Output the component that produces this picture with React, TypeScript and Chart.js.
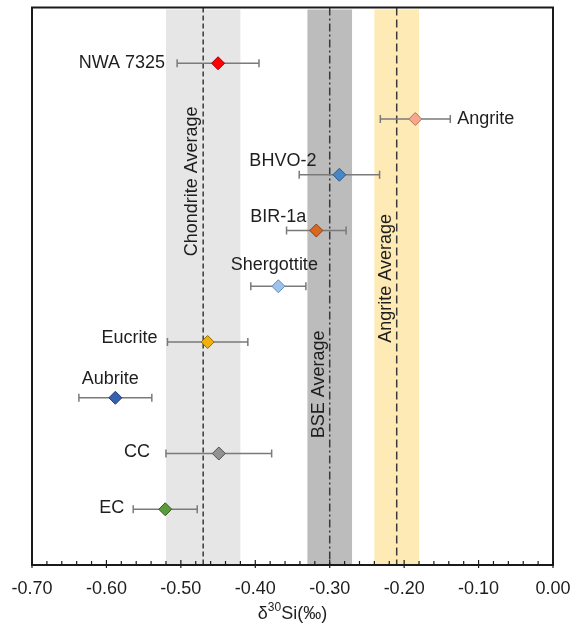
import React, { useEffect, useRef } from "react";
import { Chart, registerables } from "chart.js";

Chart.register(...registerables);

// ---- data ----
const samples = ["NWA 7325", "Angrite", "BHVO-2", "BIR-1a", "Shergottite", "Eucrite", "Aubrite", "CC", "EC"];
const delta30Si = [-0.45, -0.185, -0.287, -0.318, -0.369, -0.464, -0.588, -0.449, -0.521];
const err2sd = [0.055, 0.047, 0.054, 0.04, 0.037, 0.054, 0.049, 0.071, 0.043];
const rowIndex = [9, 8, 7, 6, 5, 4, 3, 2, 1];

const bandNames = ["Chondrite Average", "BSE Average", "Angrite Average"];
const bandMean = [-0.47, -0.3, -0.21];
const bandLow = [-0.52, -0.33, -0.24];
const bandHigh = [-0.42, -0.27, -0.18];

const xTickValues = [-0.7, -0.6, -0.5, -0.4, -0.3, -0.2, -0.1, 0.0];
const xTitleParts = ["δ", "30", "Si(‰)"];

// ---- styles ----
const FONT = '"Liberation Sans", Arial, sans-serif';
const pointFill = ["#ff0000", "#f4a98f", "#4a86c4", "#d8671f", "#9fc3e8", "#f1b10a", "#3561b1", "#929292", "#5c9a3a"];
const pointEdge = ["#a00000", "#b8735e", "#2b5a8e", "#8c4212", "#5d8cc0", "#8e6a00", "#1c3a78", "#4f4f4f", "#2f5c1a"];
const bandFill = ["#e6e6e7", "#bcbcbc", "#feeab4"];
const bandDash = [[5, 3], [8, 3, 2, 3], [8, 4]];
const bandLabelRow = [6.88, 3.24, 5.14];
// label placement: anchor ('lo' = left end of error bar, 'hi' = right end, 'pt' = point), align, dx, dy (px)
const labelPlace: [string, CanvasTextAlign, number, number][] = [
  ["lo", "right", -12, 0],
  ["hi", "left", 7, 0],
  ["pt", "right", -23, -14],
  ["pt", "right", -10, -13],
  ["pt", "center", -4, -21],
  ["lo", "right", -10, -4],
  ["pt", "center", -5, -19],
  ["lo", "right", -16, -1],
  ["lo", "right", -9, -1],
];

const customPlugin = {
  id: "customDraw",
  beforeDatasetsDraw(chart: any) {
    const { ctx, chartArea: a, scales } = chart;
    const x = scales.x;
    const y = scales.y;
    ctx.save();
    // bands
    for (let i = 0; i < bandNames.length; i++) {
      const l = x.getPixelForValue(bandLow[i]);
      const r = x.getPixelForValue(bandHigh[i]);
      ctx.fillStyle = bandFill[i];
      ctx.fillRect(l, a.top + 2, r - l, a.bottom - a.top - 2);
    }
    for (let i = 0; i < bandNames.length; i++) {
      const m = x.getPixelForValue(bandMean[i]);
      ctx.beginPath();
      ctx.setLineDash(bandDash[i]);
      ctx.strokeStyle = "#3a3a3a";
      ctx.lineWidth = 1.5;
      ctx.moveTo(m, a.top);
      ctx.lineTo(m, a.bottom);
      ctx.stroke();
    }
    ctx.setLineDash([]);
    // band labels
    for (let i = 0; i < bandNames.length; i++) {
      const m = x.getPixelForValue(bandMean[i]);
      const yy = y.getPixelForValue(bandLabelRow[i]);
      ctx.save();
      ctx.translate(m - 11, yy);
      ctx.rotate(-Math.PI / 2);
      ctx.font = `18px ${FONT}`;
      ctx.fillStyle = "#1e1e1e";
      ctx.textAlign = "center";
      ctx.textBaseline = "middle";
      ctx.fillText(bandNames[i], 0, 0);
      ctx.restore();
    }
    // error bars
    ctx.strokeStyle = "#7a7a7a";
    ctx.lineWidth = 1.5;
    for (let i = 0; i < samples.length; i++) {
      const lo = x.getPixelForValue(delta30Si[i] - err2sd[i]);
      const hi = x.getPixelForValue(delta30Si[i] + err2sd[i]);
      const py = y.getPixelForValue(rowIndex[i]);
      ctx.beginPath();
      ctx.moveTo(lo, py);
      ctx.lineTo(hi, py);
      ctx.moveTo(lo, py - 4);
      ctx.lineTo(lo, py + 4);
      ctx.moveTo(hi, py - 4);
      ctx.lineTo(hi, py + 4);
      ctx.stroke();
    }
    ctx.restore();
  },
  afterDatasetsDraw(chart: any) {
    const { ctx, chartArea: a, scales } = chart;
    const x = scales.x;
    const y = scales.y;
    ctx.save();
    // frame
    ctx.strokeStyle = "#1a1a1a";
    ctx.lineWidth = 2;
    ctx.strokeRect(a.left, a.top, a.right - a.left, a.bottom - a.top);
    // ticks
    ctx.lineWidth = 1.2;
    for (let k = 0; k <= 35; k++) {
      const v = -0.7 + k * 0.02;
      const px = x.getPixelForValue(v);
      const major = k % 5 === 0;
      ctx.beginPath();
      ctx.moveTo(px, a.bottom - (major ? 5 : 4));
      ctx.lineTo(px, a.bottom + (major ? 3 : 0));
      ctx.stroke();
    }
    // sample labels
    ctx.font = `18px ${FONT}`;
    ctx.fillStyle = "#1e1e1e";
    ctx.textBaseline = "middle";
    for (let i = 0; i < samples.length; i++) {
      const [anchor, align, dx, dy] = labelPlace[i];
      const val = anchor === "lo" ? delta30Si[i] - err2sd[i] : anchor === "hi" ? delta30Si[i] + err2sd[i] : delta30Si[i];
      const px = x.getPixelForValue(val);
      const py = y.getPixelForValue(rowIndex[i]);
      ctx.textAlign = align;
      ctx.fillText(samples[i], px + dx, py + dy);
    }
    // x title with superscript
    const big = `18px ${FONT}`;
    const small = `12px ${FONT}`;
    ctx.font = big;
    const w0 = ctx.measureText(xTitleParts[0]).width;
    const w2 = ctx.measureText(xTitleParts[2]).width;
    ctx.font = small;
    const w1 = ctx.measureText(xTitleParts[1]).width;
    const total = w0 + w1 + w2;
    let cx = (a.left + a.right) / 2 - total / 2;
    const ty = 614;
    ctx.textAlign = "left";
    ctx.textBaseline = "middle";
    ctx.font = big;
    ctx.fillText(xTitleParts[0], cx, ty);
    cx += w0;
    ctx.font = small;
    ctx.fillText(xTitleParts[1], cx, ty - 6);
    cx += w1;
    ctx.font = big;
    ctx.fillText(xTitleParts[2], cx, ty);
    ctx.restore();
  },
};

export default function App() {
  const canvasRef = useRef<HTMLCanvasElement | null>(null);

  useEffect(() => {
    document.body.style.margin = "0";
    document.body.style.overflow = "hidden";
    const canvas = canvasRef.current;
    if (!canvas) return;
    canvas.width = 576;
    canvas.height = 627;
    const chart = new Chart(canvas, {
      type: "scatter",
      data: {
        datasets: [
          {
            data: delta30Si.map((v, i) => ({ x: v, y: rowIndex[i] })),
            pointStyle: "rectRot",
            pointRadius: 6.5,
            pointHoverRadius: 6.5,
            pointBackgroundColor: pointFill,
            pointBorderColor: pointEdge,
            pointBorderWidth: 1,
          },
        ],
      },
      options: {
        animation: false,
        responsive: false,
        maintainAspectRatio: false,
        devicePixelRatio: 1,
        layout: { padding: { left: 32, right: 23, top: 7, bottom: 0 } },
        plugins: {
          legend: { display: false },
          tooltip: { enabled: false },
        },
        scales: {
          x: {
            type: "linear",
            min: -0.7,
            max: 0,
            afterBuildTicks: (s: any) => {
              s.ticks = xTickValues.map((v) => ({ value: v }));
            },
            afterFit: (s: any) => {
              s.height = 62;
              s.paddingLeft = 0;
              s.paddingRight = 0;
            },
            grid: { display: false, drawTicks: false },
            border: { display: false },
            ticks: {
              padding: 13,
              color: "#1e1e1e",
              font: { family: FONT, size: 18 },
              maxRotation: 0,
              callback: (v: any) => Number(v).toFixed(2),
            },
          },
          y: {
            type: "linear",
            display: false,
            min: 0,
            max: 10,
            afterFit: (s: any) => {
              s.width = 0;
              s.paddingTop = 0;
              s.paddingBottom = 0;
            },
          },
        },
      },
      plugins: [customPlugin],
    } as any);
    return () => chart.destroy();
  }, []);

  return (
    <div style={{ position: "relative", width: 576, height: 627 }}>
      <canvas ref={canvasRef} width={576} height={627} style={{ display: "block", width: 576, height: 627 }} />
    </div>
  );
}
